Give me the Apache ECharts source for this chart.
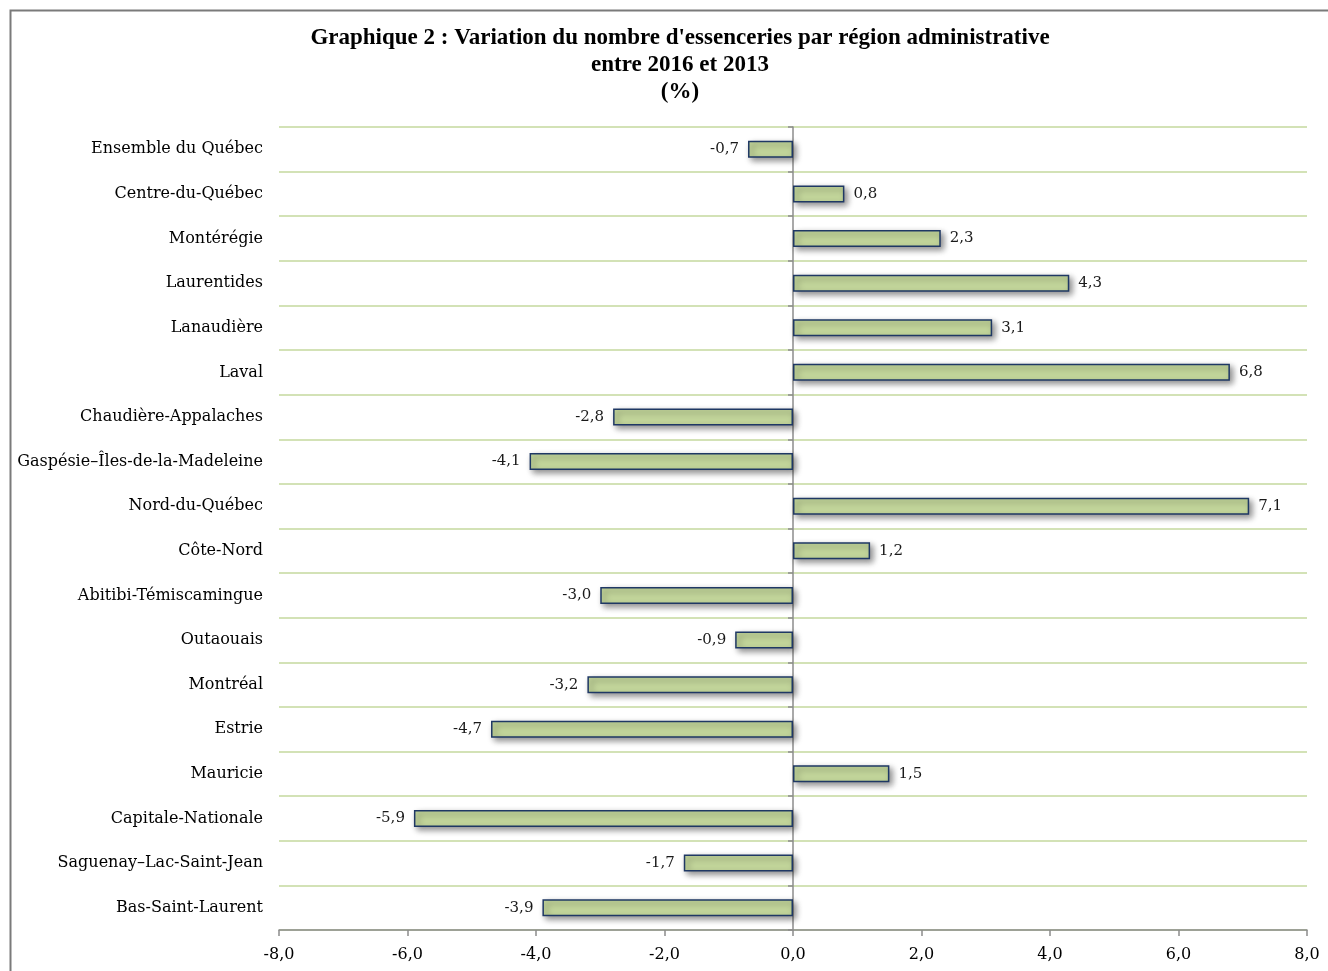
<!DOCTYPE html>
<html>
<head>
<meta charset="utf-8" />
<script src="https://cdn.jsdelivr.net/npm/echarts@6/dist/echarts.min.js"></script>
<style>
  html, body { margin: 0; padding: 0; background: #fff; }
  #chart { width: 1328px; height: 971px; }
</style>
</head>
<body>
<div id="chart"></div>
<script>
// régions, de haut en bas
const regions = [
  "Ensemble du Québec",
  "Centre-du-Québec",
  "Montérégie",
  "Laurentides",
  "Lanaudière",
  "Laval",
  "Chaudière-Appalaches",
  "Gaspésie–Îles-de-la-Madeleine",
  "Nord-du-Québec",
  "Côte-Nord",
  "Abitibi-Témiscamingue",
  "Outaouais",
  "Montréal",
  "Estrie",
  "Mauricie",
  "Capitale-Nationale",
  "Saguenay–Lac-Saint-Jean",
  "Bas-Saint-Laurent",
];
const variation = [-0.7, 0.8, 2.3, 4.3, 3.1, 6.8, -2.8, -4.1, 7.1, 1.2, -3.0, -0.9, -3.2, -4.7, 1.5, -5.9, -1.7, -3.9];
const titleLines = [
  "Graphique 2 : Variation du nombre d'essenceries par région administrative",
  "entre 2016 et 2013",
  "(%)",
];

const fmt = (v) => v.toFixed(1).replace(".", ",");
const serif = "'Liberation Serif', 'Times New Roman', serif";
const body = "'DejaVu Serif', serif";

const chart = echarts.init(document.getElementById("chart"));
chart.setOption({
  animation: false,
  textStyle: { fontFamily: body },
  title: {
    text: titleLines.join("\n"),
    left: 675,
    textAlign: "center",
    top: 20,
    textStyle: {
      fontFamily: serif,
      fontWeight: "bold",
      fontSize: 23,
      lineHeight: 27,
      color: "#000",
    },
  },
  graphic: [
    {
      type: "rect",
      shape: { x: 10.5, y: 10.5, width: 1340, height: 980 },
      style: { fill: "none", stroke: "#7a7a7a", lineWidth: 2 },
      z: 100,
    },
  ],
  grid: { left: 279, right: 21, top: 127, bottom: 41 },
  xAxis: {
    type: "value",
    min: -8,
    max: 8,
    interval: 2,
    axisLine: { show: true, onZero: false, lineStyle: { color: "#8c8c8c", width: 1.5 } },
    axisTick: { show: true, length: 6, lineStyle: { color: "#8c8c8c", width: 1.5 } },
    axisLabel: { formatter: fmt, fontFamily: body, fontSize: 16, color: "#000", margin: 17 },
    splitLine: { show: false },
  },
  yAxis: [
    {
      type: "category",
      inverse: true,
      data: regions,
      axisLine: { show: false, onZero: false },
      axisTick: { show: false },
      axisLabel: { fontFamily: body, fontSize: 16, color: "#000", margin: 16 },
      splitLine: { show: true, lineStyle: { color: "#d3e2b6", width: 2 } },
    },
    {
      type: "category",
      inverse: true,
      data: regions,
      position: "left",
      axisLine: { show: true, onZero: true, onZeroAxisIndex: 0, lineStyle: { color: "#8c8c8c", width: 1.5 } },
      axisTick: { show: true, inside: false, length: 5, lineStyle: { color: "#8c8c8c", width: 1.5 } },
      axisLabel: { show: false },
      splitLine: { show: false },
    },
  ],
  series: [
    {
      type: "bar",
      yAxisIndex: 0,
      barWidth: 17,
      data: variation.map((v) => ({
        value: v,
        label: { position: v < 0 ? "left" : "right" },
      })),
      itemStyle: {
        color: "#c3d69b",
        borderColor: "#1f3864",
        borderWidth: 1.5,
        shadowColor: "rgba(0,0,0,0.45)",
        shadowBlur: 6,
        shadowOffsetX: 3,
        shadowOffsetY: 3,
      },
      label: {
        show: true,
        formatter: (p) => fmt(p.value),
        fontFamily: body,
        fontSize: 15,
        color: "#1a1a1a",
        distance: 9,
      },
    },
  ],
});
</script>
</body>
</html>
